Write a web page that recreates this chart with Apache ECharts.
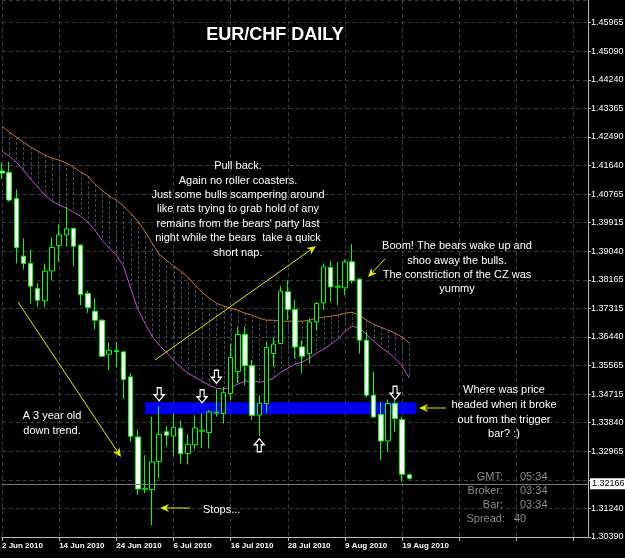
<!DOCTYPE html>
<html><head><meta charset="utf-8">
<script src="https://cdn.jsdelivr.net/npm/echarts@6/dist/echarts.min.js"></script>
<style>html,body{margin:0;padding:0;background:#000;}#c{width:625px;height:558px;}</style>
</head><body><div id="c"></div>
<script>
// ---------- DATA ----------
const dates = ['2 Jun 2010','3 Jun 2010','4 Jun 2010','7 Jun 2010','8 Jun 2010','9 Jun 2010','10 Jun 2010','11 Jun 2010','14 Jun 2010','15 Jun 2010','16 Jun 2010','17 Jun 2010','18 Jun 2010','21 Jun 2010','22 Jun 2010','23 Jun 2010','24 Jun 2010','25 Jun 2010','28 Jun 2010','29 Jun 2010','30 Jun 2010','1 Jul 2010','2 Jul 2010','5 Jul 2010','6 Jul 2010','7 Jul 2010','8 Jul 2010','9 Jul 2010','12 Jul 2010','13 Jul 2010','14 Jul 2010','15 Jul 2010','16 Jul 2010','19 Jul 2010','20 Jul 2010','21 Jul 2010','22 Jul 2010','23 Jul 2010','26 Jul 2010','27 Jul 2010','28 Jul 2010','29 Jul 2010','30 Jul 2010','2 Aug 2010','3 Aug 2010','4 Aug 2010','5 Aug 2010','6 Aug 2010','9 Aug 2010','10 Aug 2010','11 Aug 2010','12 Aug 2010','13 Aug 2010','16 Aug 2010','17 Aug 2010','18 Aug 2010','19 Aug 2010','20 Aug 2010'];
// empty future slots (chart shift area)
const futureDates = ['23 Aug 2010','24 Aug 2010','25 Aug 2010','26 Aug 2010','27 Aug 2010','30 Aug 2010','31 Aug 2010','1 Sep 2010','2 Sep 2010','3 Sep 2010','6 Sep 2010','7 Sep 2010','8 Sep 2010','9 Sep 2010','10 Sep 2010','13 Sep 2010','14 Sep 2010','15 Sep 2010','16 Sep 2010','17 Sep 2010','20 Sep 2010','21 Sep 2010','22 Sep 2010','23 Sep 2010','24 Sep 2010'];

const opens  = [1.41471,1.41432,1.40644,1.38896,1.38675,1.37917,1.37541,1.38450,1.39220,1.39541,1.39735,1.39229,1.37765,1.37229,1.36956,1.35926,1.36032,1.35996,1.35238,1.33420,1.31835,1.31826,1.32675,1.33578,1.33450,1.33684,1.32917,1.33184,1.33593,1.33553,1.34138,1.34129,1.34735,1.35396,1.36523,1.35578,1.34078,1.34432,1.35947,1.36250,1.37814,1.37281,1.36147,1.35947,1.36905,1.37481,1.38553,1.37956,1.37935,1.38723,1.38199,1.36350,1.34684,1.34099,1.33299,1.34432,1.33947,1.32275];
const closes = [1.41411,1.40593,1.39159,1.38675,1.37987,1.37562,1.38441,1.39159,1.39541,1.39723,1.39199,1.37735,1.37341,1.36956,1.35866,1.36047,1.36002,1.35160,1.33441,1.31844,1.31866,1.32663,1.33496,1.33472,1.33705,1.32911,1.33199,1.33693,1.33623,1.34178,1.34169,1.34760,1.35826,1.36523,1.35578,1.34078,1.34441,1.36129,1.36229,1.37835,1.37281,1.36147,1.35866,1.36905,1.37462,1.38572,1.37965,1.37987,1.38723,1.38147,1.36350,1.34684,1.34026,1.33299,1.34432,1.33978,1.32290,1.32166];
const lows   = [1.41229,1.40541,1.38675,1.38493,1.37462,1.37359,1.37359,1.38168,1.38723,1.39178,1.38593,1.37411,1.37178,1.36684,1.35844,1.35441,1.35532,1.34584,1.33269,1.31669,1.31714,1.30744,1.32160,1.33108,1.32844,1.32614,1.32593,1.33047,1.33078,1.33069,1.34032,1.33826,1.34532,1.35047,1.34987,1.33926,1.33441,1.34147,1.35541,1.36229,1.36956,1.35796,1.35341,1.35644,1.36653,1.37259,1.37511,1.37411,1.37714,1.38068,1.35947,1.34623,1.34002,1.32714,1.32966,1.33572,1.32057,1.32123];
const highs  = [1.41714,1.41753,1.40917,1.39432,1.39099,1.38068,1.38675,1.39462,1.39856,1.40390,1.39765,1.39259,1.37844,1.37614,1.36987,1.36269,1.36299,1.36032,1.35350,1.33644,1.32866,1.34026,1.34350,1.33744,1.34129,1.33911,1.33502,1.34078,1.34138,1.34229,1.34866,1.34935,1.36229,1.36744,1.36759,1.35744,1.34684,1.36299,1.36441,1.37987,1.38168,1.37562,1.36350,1.37008,1.37511,1.38675,1.38753,1.38723,1.38796,1.39259,1.38220,1.36602,1.35390,1.34481,1.34553,1.34532,1.34026,1.32298];

const maUpper = [1.42835,1.42653,1.42502,1.42350,1.42199,1.42077,1.41956,1.41865,1.41805,1.41714,1.41593,1.41441,1.41320,1.41077,1.40896,1.40714,1.40593,1.40411,1.40199,1.39956,1.39653,1.39290,1.38956,1.38775,1.38593,1.38441,1.38259,1.38017,1.37805,1.37623,1.37472,1.37381,1.37320,1.37259,1.37169,1.37108,1.37017,1.36956,1.36956,1.36926,1.36926,1.36926,1.36926,1.36956,1.37017,1.37047,1.37078,1.37108,1.37169,1.37199,1.37108,1.36956,1.36835,1.36744,1.36653,1.36562,1.36441,1.36259];
const maLower = [1.42077,1.41926,1.41744,1.41502,1.41229,1.40987,1.40744,1.40562,1.40441,1.40350,1.40229,1.40108,1.39926,1.39684,1.39381,1.39138,1.38926,1.38593,1.37926,1.37290,1.36866,1.36472,1.36199,1.35987,1.35744,1.35532,1.35350,1.35229,1.35108,1.34987,1.34896,1.34866,1.34926,1.35017,1.35108,1.35108,1.35078,1.35108,1.35199,1.35381,1.35502,1.35623,1.35684,1.35805,1.35956,1.36078,1.36229,1.36381,1.36623,1.36775,1.36714,1.36532,1.36320,1.36138,1.35987,1.35805,1.35563,1.35199];

const tickLabels = ['1.30390','1.31240','1.32115','1.32965','1.33840','1.34715','1.35565','1.36440','1.37315','1.38165','1.39040','1.39915','1.40765','1.41640','1.42490','1.43365','1.44240','1.45090','1.45965'];
const yAxisMax = 1.46653;
const currentPrice = 1.32166;
const currentPriceLabel = '1.32166';

const zoneStart = '30 Jun 2010', zoneEnd = '23 Aug 2010';
const zoneTop = 1.34472, zoneBottom = 1.34109;

const downArrows = [['2 Jul 2010',1.34714],['12 Jul 2010',1.34653],['14 Jul 2010',1.35244],['18 Aug 2010',1.34759]];
const upArrows = [['22 Jul 2010',1.33168]];

// ---------- BUILD ----------
const categories = dates.concat(futureDates);
const yMin = Number(tickLabels[0]);
const yInterval = (Number(tickLabels[tickLabels.length-1]) - yMin) / (tickLabels.length - 1);
const candleData = dates.map((d,i)=>[opens[i], closes[i], lows[i], highs[i]]);
const hatchData = dates.map((d,i)=>[i, maUpper[i], maLower[i]]);

const GRID = '#3a3a3a', YEL = '#e8e800', FONT = '"Liberation Sans", Arial, sans-serif';

function arrowLine(x1,y1,x2,y2){
  const a = Math.atan2(y2-y1, x2-x1), L = 9, W = 4;
  const bx = x2 - L*Math.cos(a), by = y2 - L*Math.sin(a);
  const px = -Math.sin(a)*W, py = Math.cos(a)*W;
  const nx = bx + (x2-bx)*0.3, ny = by + (y2-by)*0.3;
  return [
    {type:'line', z:100, shape:{x1:x1,y1:y1,x2:nx,y2:ny}, style:{stroke:YEL,lineWidth:1}},
    {type:'polygon', z:100, shape:{points:[[x2,y2],[bx+px,by+py],[nx,ny],[bx-px,by-py]]}, style:{fill:YEL}}
  ];
}
function txt(text, x, y, align, opts){
  opts = opts || {};
  return {type:'text', z:100, style:{text:text, x:x, y:y, fill:opts.fill||'#fff',
    font:opts.font||('11px '+FONT), align:align, textAlign:align, verticalAlign:'top', textVerticalAlign:'top',
    lineHeight:opts.lh||14.5}};
}

const graphics = [].concat(
  arrowLine(18,302,121,457),
  arrowLine(155,360,316,246),
  arrowLine(385,259,368,277),
  arrowLine(446,408,419,408),
  arrowLine(190,508,160,508),
  [
    txt('EUR/CHF DAILY', 275, 28, 'center', {font:'bold 18px '+FONT}),
    txt('Pull back.\nAgain no roller coasters.\nJust some bulls scampering around\nlike rats trying to grab hold of any\nremains from the bears\' party last\nnight while the bears  take a quick\nshort nap.', 238, 159, 'center', {lh:14.4}),
    txt('Boom! The bears wake up and\nshoo away the bulls.\nThe constriction of the CZ was\nyummy', 457, 239, 'center', {lh:14.4}),
    txt('Where was price\nheaded when it broke\nout from the trigger\nbar? :)', 504, 383, 'center', {lh:14.6}),
    txt('A 3 year old\ndown trend.', 52, 409, 'center', {lh:14.5}),
    txt('Stops...', 203, 503, 'left'),
    txt('GMT:\nBroker:\nBar:', 503, 470, 'right', {fill:'#8c8c8c', lh:14}),
    txt('Spread:', 505, 512, 'right', {fill:'#8c8c8c', lh:14}),
    txt('05:34\n03:34\n03:34', 520, 470, 'left', {fill:'#8c8c8c', lh:14}),
    txt('40', 514, 512, 'left', {fill:'#8c8c8c', lh:14})
  ]
);

const chart = echarts.init(document.getElementById('c'), null, {renderer:'canvas'});
chart.setOption({
  backgroundColor:'#000',
  animation:false,
  grid:{left:2, right:37, top:0, bottom:21, outerBoundsMode:'none', containLabel:false},
  xAxis:{
    type:'category', data:categories, boundaryGap:false,
    axisLine:{show:true, lineStyle:{color:'#bdbdbd', width:1}},
    axisTick:{show:true, interval:7, length:4, lineStyle:{color:'#bdbdbd'}},
    axisLabel:{show:true, interval:7, align:'left', color:'#fff', fontSize:8, fontWeight:'bold', fontFamily:FONT, margin:5,
      formatter:(v,i)=> i < dates.length ? v : ''},
    splitLine:{show:true, interval:7, lineStyle:{color:GRID, type:[4,3], width:1}}
  },
  yAxis:{
    type:'value', position:'right', min:yMin, max:yAxisMax, interval:yInterval, scale:false,
    axisLine:{show:true, lineStyle:{color:'#bdbdbd', width:1}},
    axisTick:{show:true, length:3, lineStyle:{color:'#bdbdbd'}},
    axisLabel:{show:true, color:'#fff', fontSize:9, fontFamily:FONT, margin:3, showMaxLabel:false,
      formatter:v=>{
        if (Math.abs(v-currentPrice) < yInterval*0.5) return '';
        const i = Math.round((v-yMin)/yInterval);
        return tickLabels[i] || '';
      }},
    splitLine:{show:true, lineStyle:{color:GRID, type:[4,3], width:1}}
  },
  series:[
    {type:'custom', name:'cloud', z:1, silent:true, clip:false,
      data:hatchData,
      renderItem:(params, api)=>{
        const p1 = api.coord([api.value(0), api.value(1)]);
        const p2 = api.coord([api.value(0), api.value(2)]);
        const x = Math.round(p1[0]) + 0.5;
        return {type:'line', shape:{x1:x, y1:p1[1], x2:x, y2:p2[1]},
          style:{stroke:'#2f5252', lineWidth:1, lineDash:[3,2]}};
      }},
    {type:'line', name:'upper', z:2, data:maUpper, symbol:'none', silent:true, clip:false,
      lineStyle:{color:'#c8752e', width:1}},
    {type:'line', name:'lower', z:2, data:maLower, symbol:'none', silent:true, clip:false,
      lineStyle:{color:'#c24fcb', width:1}},
    {type:'candlestick', name:'EURCHF', z:3, data:candleData, barWidth:5, clip:false, silent:true,
      itemStyle:{color:'#000', color0:'#fff', borderColor:'#00ff00', borderColor0:'#00ff00', borderWidth:1},
      markArea:{silent:true, itemStyle:{color:'#0000ee', opacity:1, borderWidth:0},
        data:[[{xAxis:zoneStart, yAxis:zoneTop},{xAxis:zoneEnd, yAxis:zoneBottom}]]},
      markLine:{silent:true, symbol:['none','none'], animation:false,
        lineStyle:{color:'#7a7a7a', type:'solid', width:1},
        label:{show:true, position:'end', formatter:currentPriceLabel, backgroundColor:'#fff', color:'#000',
          fontSize:9, fontFamily:FONT, padding:[1,2,1,2], distance:2},
        data:[{yAxis:currentPrice}]}
    },
    {type:'scatter', name:'down', z:5, silent:true, data:downArrows, symbol:'path://M3,0 L7,0 L7,7 L10,7 L5,13 L0,7 L3,7 Z',
      symbolSize:[10,13], itemStyle:{color:'#000', borderColor:'#fff', borderWidth:1.3, opacity:1}},
    {type:'scatter', name:'up', z:5, silent:true, data:upArrows, symbol:'path://M5,0 L10,6 L7,6 L7,13 L3,13 L3,6 L0,6 Z',
      symbolSize:[10,13], itemStyle:{color:'#000', borderColor:'#fff', borderWidth:1.3, opacity:1}}
  ],
  graphic:graphics
});
</script></body></html>
